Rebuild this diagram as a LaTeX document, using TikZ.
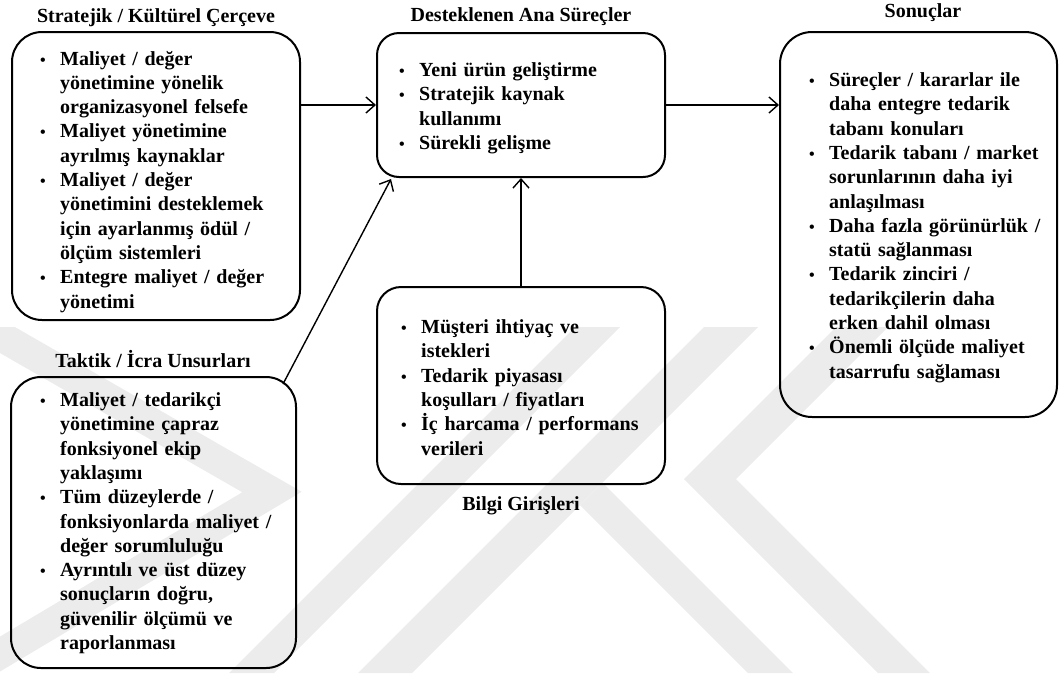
\documentclass[tikz,border=0pt]{standalone}
\usepackage{fontspec}
\setmainfont{Liberation Serif}
\usetikzlibrary{arrows.meta,calc}

\definecolor{wm}{RGB}{236,236,236}

% 20pt bold body text on a 24.3pt baseline grid
\newcommand\bodyfont{\fontsize{20}{24.3}\selectfont\bfseries}
% one bulleted item; later lines of the item hang under the text
\newcommand\blt[1]{\par\noindent\hangindent=21pt\hangafter=1\rule{0pt}{15pt}%
  \makebox[21pt][l]{\hspace{1pt}\scalebox{0.8}{\textbullet}}#1\par}

\tikzset{
  box/.style={draw, line width=2pt, rounded corners=#1, inner sep=0pt},
  body/.style={anchor=north west, inner sep=0pt, text width=#1, align=left, font=\bodyfont},
  ttl/.style={anchor=base, inner sep=0pt, font=\bodyfont},
  flow/.style={line width=1.4pt, -{Straight Barb[length=9pt,width=16pt,line width=1.4pt]}},
  wmband/.style={fill=wm, draw=none},
}

\begin{document}
\begin{tikzpicture}[x=1pt,y=-1pt]
\useasboundingbox (0,0) rectangle (1062,673);

% faint background emblem
\begin{scope}
  \clip (0,327) rectangle (1062,673);
  \draw[wm, line width=30pt, line join=miter] (-10,330) -- (272,492) -- (-10,660);
  \fill[wmband] (575,327) -- (620,327) -- (274,673) -- (229,673) -- cycle;
  \fill[wmband] (704,327) -- (758,327) -- (412,673) -- (358,673) -- cycle;
  \fill[wmband] (836,327) -- (684,479) -- (878,673) -- (930,673) -- (736,479) -- (888,327) -- cycle;
  \fill[wmband] (580,505) -- (602.5,482.5) -- (793,673) -- (748,673) -- cycle;
\end{scope}

% boxes
\node[box=30pt, minimum width=288pt, minimum height=288pt] (B1) at (156,176) {};
\node[box=30pt, minimum width=285pt, minimum height=291pt] (B2) at (153.5,522.5) {};
\node[box=22pt, minimum width=288pt, minimum height=144pt] (B3) at (521,105) {};
\node[box=24pt, minimum width=288pt, minimum height=197pt] (B4) at (521,385.5) {};
\node[box=32pt, minimum width=277pt, minimum height=385pt] (B5) at (918.5,224.5) {};

% titles
\node[ttl] (T1) at (156,22) {Stratejik / Kültürel Çerçeve};
\node[ttl] (T2) at (153,367) {Taktik / İcra Unsurları};
\node[ttl] (T3) at (521,21.5) {Desteklenen Ana Süreçler};
\node[ttl] (T4) at (521,510) {Bilgi Girişleri};
\node[ttl] (T5) at (923,17) {Sonuçlar};

% box contents
\node[body=250pt] (B1t) at (39,40.5) {%
  \blt{Maliyet / değer\newline yönetimine yönelik\newline organizasyonel felsefe}
  \blt{Maliyet yönetimine\newline ayrılmış kaynaklar}
  \blt{Maliyet / değer\newline yönetimini desteklemek\newline için ayarlanmış ödül /\newline ölçüm sistemleri}
  \blt{Entegre maliyet / değer\newline yönetimi}};

\node[body=250pt] (B2t) at (39,382) {%
  \blt{Maliyet / tedarikçi\newline yönetimine çapraz\newline fonksiyonel ekip\newline yaklaşımı}
  \blt{Tüm düzeylerde /\newline fonksiyonlarda maliyet /\newline değer sorumluluğu}
  \blt{Ayrıntılı ve üst düzey\newline sonuçların doğru,\newline güvenilir ölçümü ve\newline raporlanması}};

\node[body=260pt] (B3t) at (398,52) {%
  \blt{Yeni ürün geliştirme}
  \blt{Stratejik kaynak\newline kullanımı}
  \blt{Sürekli gelişme}};

\node[body=260pt] (B4t) at (400,309) {%
  \blt{Müşteri ihtiyaç ve\newline istekleri}
  \blt{Tedarik piyasası\newline koşulları / fiyatları}
  \blt{İç harcama / performans\newline verileri}};

\node[body=245pt] (B5t) at (808,62) {%
  \blt{Süreçler / kararlar ile\newline daha entegre tedarik\newline tabanı konuları}
  \blt{Tedarik tabanı / market\newline sorunlarının daha iyi\newline anlaşılması}
  \blt{Daha fazla görünürlük /\newline statü sağlanması}
  \blt{Tedarik zinciri /\newline tedarikçilerin daha\newline erken dahil olması}
  \blt{Önemli ölçüde maliyet\newline tasarrufu sağlaması}};

% connectors
\coordinate (c1) at ($(B2.north east)+(-14,8)$);
\coordinate (c2) at ($(B3.south west)+(15,1)$);
\draw[flow] (B3.west -| B1.east) -- (B3.west);
\draw[flow] (B3.east) -- (B3.east -| B5.west);
\draw[flow] (B4.north) -- (B3.south);
\draw[flow] (c1) -- (c2);
\end{tikzpicture}
\end{document}
